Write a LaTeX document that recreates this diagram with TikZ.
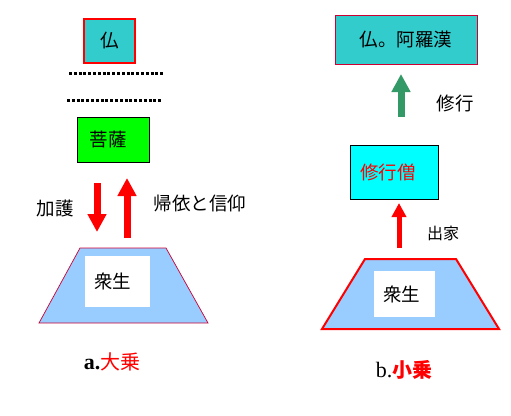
\documentclass[tikz,border=0pt]{standalone}
\usepackage{fontspec}
\newfontfamily\cjk{Noto Sans CJK JP}
\newfontfamily\ser{Liberation Serif}
\usetikzlibrary{arrows.meta}
\definecolor{tealbox}{HTML}{33CCCC}
\definecolor{greenbox}{HTML}{00FF00}
\definecolor{cyanbox}{HTML}{00FFFF}
\definecolor{lightblue}{HTML}{99CCFF}
\definecolor{pureRed}{HTML}{FF0000}
\definecolor{crimsonline}{HTML}{CC0033}
\definecolor{seagreen}{HTML}{339966}
\tikzset{
  box/.style={draw, inner sep=0pt, font=\cjk\fontsize{18.5}{21}\selectfont},
  whitebox/.style={fill=white, inner sep=0pt, font=\cjk\fontsize{18.5}{21}\selectfont},
  lbl/.style={inner sep=0pt, font=\cjk\fontsize{18.5}{21}\selectfont},
  bigarrow/.style={line width=7pt, -{Triangle[width=18pt,length=18pt]}},
  smallarrow/.style={line width=5pt, -{Triangle[width=14pt,length=14pt]}},
  dotline/.style={line width=3pt, dash pattern=on 3pt off 1.8pt},
}
\begin{document}
\begin{tikzpicture}[x=1pt,y=-1pt]
\useasboundingbox (0,0) rectangle (511,415);

% ---------- left: a. 大乗 ----------
\node[box, draw=pureRed, line width=1.5pt, fill=tealbox, minimum width=51pt, minimum height=44pt] (buddha) at (109.5,41) {仏};
\coordinate (d1a) at (69,73);
\coordinate (d1b) at (163,73);
\coordinate (d2a) at (67,100);
\coordinate (d2b) at (162,100);
\draw[dotline] (d1a) -- (d1b);
\draw[dotline] (d2a) -- (d2b);
\node[box, fill=greenbox, line width=0.8pt, minimum width=72pt, minimum height=45pt] (bodhi) at (113,139.5) {\hspace*{-10pt}菩薩};

\coordinate (dnA) at (97,183);
\coordinate (dnB) at (97,232);
\coordinate (upA) at (127,238);
\coordinate (upB) at (127,178);
\draw[bigarrow, pureRed] (dnA) -- (dnB);
\draw[bigarrow, pureRed] (upA) -- (upB);
\node[lbl] (kago) at (55,208) {加護};
\node[lbl] (kie) at (200,203) {帰依と信仰};

\coordinate (tl1) at (80,248);
\coordinate (tl2) at (166,248);
\coordinate (tl3) at (208,323);
\coordinate (tl4) at (39,323);
\filldraw[fill=lightblue, draw=crimsonline, line width=0.7pt] (tl1) -- (tl2) -- (tl3) -- (tl4) -- cycle;
\node[whitebox, minimum width=65pt, minimum height=51pt] (beingsL) at (117.5,281.5) {\hspace*{-10pt}衆生};
\node[inner sep=0pt] (labelA) at (112,362) {{\ser\fontsize{22}{24}\selectfont\bfseries a.}{\cjk\fontsize{20}{22}\selectfont\color{pureRed}大乗}};

% ---------- right: b. 小乗 ----------
\node[box, draw=crimsonline, line width=0.7pt, fill=tealbox, minimum width=142pt, minimum height=49pt] (arhat) at (406,39.5) {仏。阿羅漢};
\coordinate (gA) at (401,117);
\coordinate (gB) at (401,74);
\draw[bigarrow, seagreen] (gA) -- (gB);
\node[lbl] (shugyo) at (455,103) {修行};
\node[box, fill=cyanbox, line width=0.8pt, minimum width=88pt, minimum height=54pt, text=pureRed] (monk) at (394,172) {\hspace*{-12pt}修行僧};

\coordinate (rA) at (399,248);
\coordinate (rB) at (399,203);
\draw[smallarrow, pureRed] (rA) -- (rB);
\node[lbl, font=\cjk\fontsize{16}{19}\selectfont] (shukke) at (443,233) {出家};

\coordinate (tr1) at (365,259);
\coordinate (tr2) at (456,259);
\coordinate (tr3) at (499,329);
\coordinate (tr4) at (322,329);
\filldraw[fill=lightblue, draw=pureRed, line width=2pt] (tr1) -- (tr2) -- (tr3) -- (tr4) -- cycle;
\node[whitebox, minimum width=61pt, minimum height=46pt] (beingsR) at (404.5,294) {\hspace*{-6pt}衆生};
\node[inner sep=0pt] (labelB) at (404,370) {{\ser\fontsize{22}{24}\selectfont b.}{\cjk\fontsize{20}{22}\selectfont\bfseries\color{pureRed}小乗}};
\end{tikzpicture}
\end{document}
